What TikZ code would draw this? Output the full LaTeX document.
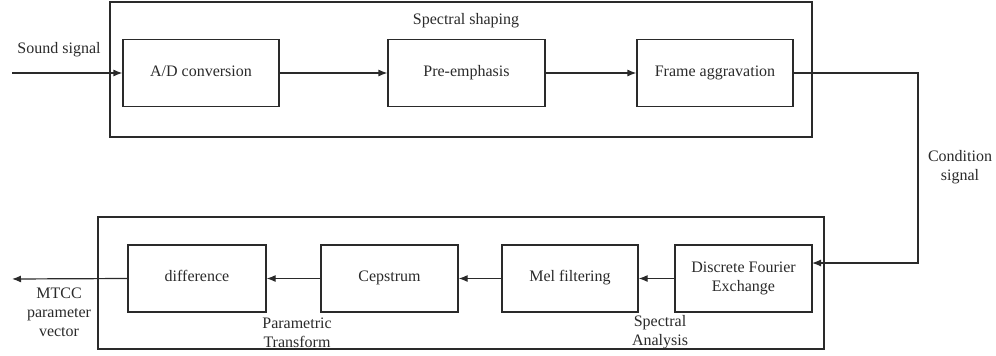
\documentclass[tikz,border=0pt]{standalone}
\usepackage{fontspec}
\setmainfont{Liberation Serif}
\usetikzlibrary{arrows.meta}
\definecolor{ink}{HTML}{2A2A2A}
\tikzset{
  blk/.style={draw=ink, line width=1.2pt, minimum width=#1, minimum height=67pt, inner sep=2pt, align=center, text=ink, font=\fontsize{16}{18.5}\selectfont},
  one/.style={text height=0.66em, text depth=0pt},
  frame/.style={draw=ink, line width=1.2pt},
  lbl/.style={text=ink, align=center, inner sep=0pt, font=\fontsize{16}{19}\selectfont},
  arr/.style={draw=ink, line width=1.2pt, -{Latex[length=9pt,width=7pt]}},
}
\begin{document}
\begin{tikzpicture}[x=1pt,y=-1pt]
\useasboundingbox (0,0) rectangle (996,356);
% outer frames
\draw[frame] (110,2) rectangle (812,137);
\draw[frame] (98,217) rectangle (824,349);
% top row
\node[blk=156pt, one] (ad) at (201,73) {A/D conversion};
\node[blk=157pt, one] (pe) at (466.5,73) {Pre-emphasis};
\node[blk=156pt, one] (fa) at (715,73) {Frame aggravation};
% bottom row
\node[blk=138pt, one] (diff) at (197,278.5) {difference};
\node[blk=137pt, one] (cep) at (389.5,278.5) {Cepstrum};
\node[blk=136pt, one] (mel) at (570,278.5) {Mel filtering};
\node[blk=137pt] (dfe) at (743.5,278.5) {Discrete Fourier\\Exchange};
% labels
\node[lbl] (lss) at (466,21) {Spectral shaping};
\node[lbl] (lsound) at (59,50) {Sound signal};
\node[lbl] (lcond) at (960,167) {Condition\\signal};
\node[lbl] (lmtcc) at (59,312) {MTCC\\parameter\\vector};
\node[lbl] (lpt) at (297,332.5) {Parametric\\Transform};
\node[lbl] (lsa) at (660,332.5) {Spectral\\Analysis};
% coordinates
\coordinate (sin) at (12,73);
\coordinate (out) at (12,279);
\coordinate (turn) at (918,73);
\coordinate (dfein) at (812,263);
% connectors
\draw[arr] (sin) -- (ad.west);
\draw[arr] (ad.east) -- (pe.west);
\draw[arr] (pe.east) -- (fa.west);
\draw[arr] (fa.east) -- (turn) -- (turn |- dfein) -- (dfein);
\draw[arr] (dfe.west) -- (mel.east);
\draw[arr] (mel.west) -- (cep.east);
\draw[arr] (cep.west) -- (diff.east);
\draw[arr] (diff.west) -- (out);
\end{tikzpicture}
\end{document}
